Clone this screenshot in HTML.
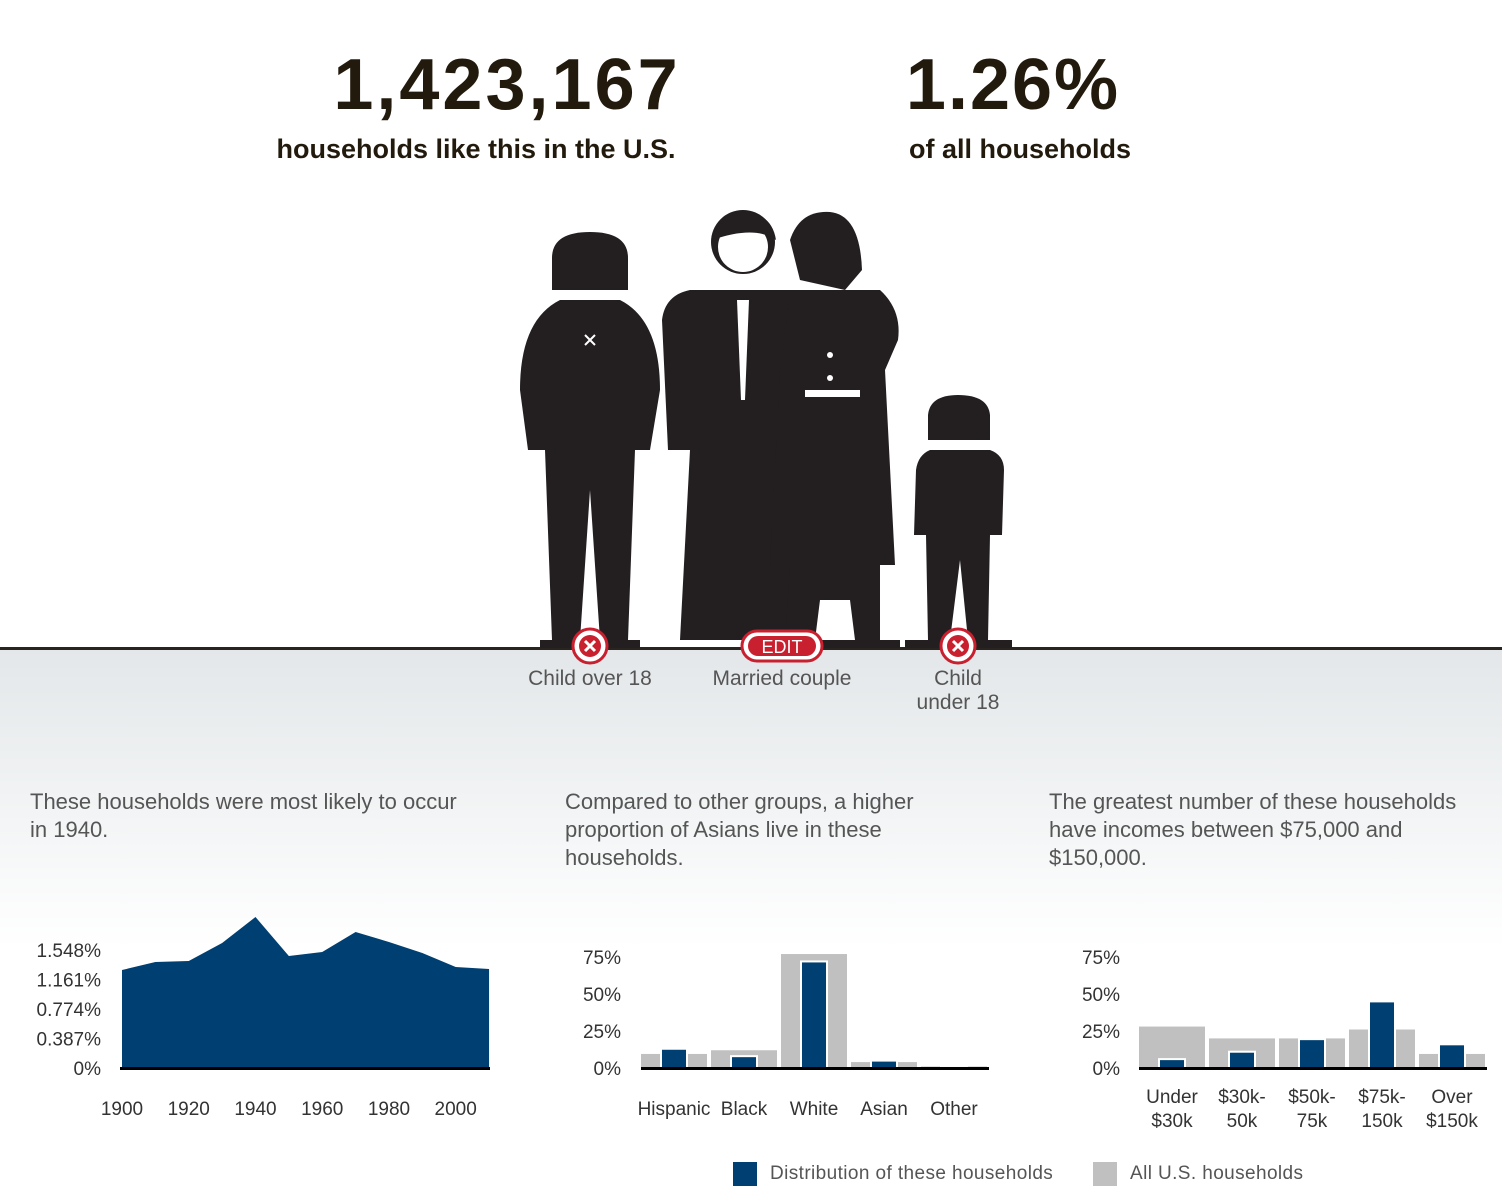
<!DOCTYPE html>
<html><head><meta charset="utf-8"><style>
body{margin:0;width:1502px;height:1182px;overflow:hidden;font-family:"Liberation Sans",sans-serif;position:relative;background:#fff}
.abs{position:absolute}
.big{font-weight:bold;color:#221a0c;text-align:center}
.desc{font-size:22px;line-height:28px;color:#555}
.lbl{font-size:21px;color:#555;text-align:center;line-height:24px}
</style></head><body>
<div class="abs" style="left:0;top:648px;width:1502px;height:534px;background:linear-gradient(#e3e7e9,#fff 300px)"></div>
<div class="abs" style="left:0;top:647px;width:1502px;height:3px;background:#2a2420"></div>
<div class="abs big" style="left:307px;top:44px;width:400px;font-size:72px;letter-spacing:3px">1,423,167</div>
<div class="abs big" style="left:226px;top:134px;width:500px;font-size:27px">households like this in the U.S.</div>
<div class="abs big" style="left:863px;top:44px;width:300px;font-size:72px;letter-spacing:2px">1.26%</div>
<div class="abs big" style="left:870px;top:134px;width:300px;font-size:27px">of all households</div>

<svg class="abs" style="left:0;top:0" width="1502" height="700">
<g fill="#231f20">
<path d="M552 290 L552 258 Q552 232 590 232 Q628 232 628 258 L628 290 Z"/>
<path d="M560 300 L620 300 Q660 320 660 390 L650 450 L635 450 L628 640 L600 640 L590 490 L580 640 L552 640 L545 450 L528 450 L520 390 Q520 320 560 300Z"/>
<path d="M540 640 L640 640 L640 648 L540 648Z"/>
<circle cx="743" cy="242" r="32"/>
<path d="M690 290 L790 290 L790 640 L680 640 L690 450 L668 450 L662 320 Q665 295 690 290Z"/>
<path d="M790 240 Q800 210 830 212 Q860 215 862 270 L845 290 L800 280 Z"/>
<path d="M790 290 L880 290 Q902 310 898 340 L885 370 L895 565 L770 565 L780 370 Z"/>
<path d="M790 565 L880 565 L880 640 L855 640 L850 600 L820 600 L815 640 L785 640 Z"/>
<path d="M770 640 L900 640 L900 648 L770 648Z"/>
<path d="M928 440 L928 415 Q930 395 958 395 Q988 395 990 415 L990 440 Z"/>
<path d="M930 450 L990 450 Q1004 455 1004 470 L1002 535 L990 535 L988 640 L968 640 L960 560 L950 640 L928 640 L926 535 L914 535 L916 470 Q918 455 930 450Z"/>
<path d="M905 640 L1012 640 L1012 648 L905 648Z"/>
</g>
<g fill="#fff">
<circle cx="743" cy="247" r="25"/><path d="M712 240 Q720 215 745 212 Q772 214 776 240 Q755 225 712 240Z" fill="#231f20"/>
<path d="M737 300 L749 300 L745 400 L741 400Z"/>
<path d="M805 390 L860 390 L860 397 L805 397Z"/>
<circle cx="830" cy="355" r="3"/><circle cx="830" cy="378" r="3"/>
<path d="M585 335 l10 10 M595 335 l-10 10" stroke="#fff" stroke-width="2"/>
</g>
<g>
<circle cx="590" cy="646" r="17" fill="#fff" stroke="#c8202f" stroke-width="3"/><circle cx="590" cy="646" r="11" fill="#c8202f"/>
<path d="M585 641 l10 10 M595 641 l-10 10" stroke="#fff" stroke-width="3"/></g>
<g>
<rect x="742" y="631" width="80" height="30" rx="15" fill="#fff" stroke="#c8202f" stroke-width="3"/><rect x="748" y="636" width="68" height="20" rx="10" fill="#c8202f"/>
<text x="782" y="653" text-anchor="middle" font-family="Liberation Sans" font-size="18" fill="#fff">EDIT</text></g>
<g>
<circle cx="958" cy="646" r="17" fill="#fff" stroke="#c8202f" stroke-width="3"/><circle cx="958" cy="646" r="11" fill="#c8202f"/>
<path d="M953 641 l10 10 M963 641 l-10 10" stroke="#fff" stroke-width="3"/></g>
</svg>
<div class="abs lbl" style="left:510px;top:667px;width:160px">Child over 18</div>
<div class="abs lbl" style="left:692px;top:667px;width:180px">Married couple</div>
<div class="abs lbl" style="left:898px;top:667px;width:120px">Child<br>under 18</div>

<div class="abs desc" style="left:30px;top:788px;width:440px">These households were most likely to occur in 1940.</div>
<div class="abs desc" style="left:565px;top:788px;width:400px">Compared to other groups, a higher proportion of Asians live in these households.</div>
<div class="abs desc" style="left:1049px;top:788px;width:453px">The greatest number of these households have incomes between $75,000 and $150,000.</div>

<svg class="abs" style="left:0;top:880px" width="1502" height="302" id="charts"></svg>

<div class="abs" style="left:733px;top:1162px;width:24px;height:24px;background:#003f72"></div>
<div class="abs" style="left:770px;top:1163px;font-size:19px;color:#555;letter-spacing:0.4px">Distribution of these households</div>
<div class="abs" style="left:1093px;top:1162px;width:24px;height:24px;background:#c0c0c0"></div>
<div class="abs" style="left:1130px;top:1163px;font-size:19px;color:#555;letter-spacing:0.4px">All U.S. households</div>

<script>
const years=[1900,1910,1920,1930,1940,1950,1960,1970,1980,1990,2000,2010];
const yearVals=[1.286,1.391,1.404,1.641,1.982,1.470,1.522,1.785,1.654,1.509,1.325,1.299];
const yearTicks=[0,0.387,0.774,1.161,1.548];
const yearTickLabels=["0%","0.387%","0.774%","1.161%","1.548%"];
const xTickYears=[1900,1920,1940,1960,1980,2000];
const raceCats=["Hispanic","Black","White","Asian","Other"];
const raceThese=[13,8,72,5,0.3];
const raceAll=[9.5,12,77,4,1];
const incCats=[["Under","$30k"],["$30k-","50k"],["$50k-","75k"],["$75k-","150k"],["Over","$150k"]];
const incThese=[6,11,19.5,45,16];
const incAll=[28,20,20,26,9.5];
const pctTicks=[0,25,50,75];
const pctTickLabels=["0%","25%","50%","75%"];

const svg=document.getElementById('charts');
const NS="http://www.w3.org/2000/svg";
function mk(t,a,p){const e=document.createElementNS(NS,t);for(const k in a)e.setAttribute(k,a[k]);(p||svg).appendChild(e);return e;}
function txt(x,y,s,anchor){const e=mk('text',{x:x,y:y,'text-anchor':anchor,'font-family':'Liberation Sans','font-size':19,fill:'#333'});e.textContent=s;return e;}
const base=188;
const ax=v=>122+(v-1900)*3.337;
const ay=v=>base-v*76.2;
let d=`M${ax(years[0])} ${base}`;
years.forEach((y,i)=>{d+=` L${ax(y)} ${ay(yearVals[i])}`;});
d+=` L${ax(years[years.length-1])} ${base} Z`;
const area=mk('path',{d:d,fill:'#003f72'});


const al=mk('rect',{x:120,y:base-1,width:370,height:3,fill:'#000'});


yearTicks.forEach((t,i)=>{const e=txt(101,ay(t)+7,yearTickLabels[i],'end');

});
xTickYears.forEach(y=>{const e=txt(ax(y),235,String(y),'middle');

});
const by=v=>base-v*1.48;
function bars(x0,these,all,prefix,tickX){
  all.forEach((v,i)=>{const gx=x0+i*70;
    const g=mk('rect',{x:gx,y:by(v),width:66,height:base-by(v),fill:'#c0c0c0'});
    
    
    const b=mk('rect',{x:gx+20,y:by(these[i]),width:26,height:base-by(these[i]),fill:'#003f72',stroke:'#fff','stroke-width':2});
    
    
  });
  const l=mk('rect',{x:x0,y:base-1,width:348,height:3,fill:'#000'});
  
  
  pctTicks.forEach((t,i)=>{const e=txt(tickX,by(t)+7,pctTickLabels[i],'end');
  
  });
}
bars(641,raceThese,raceAll,'race',621);
raceCats.forEach((c,i)=>{const e=txt(641+i*70+33,235,c,'middle');

});
bars(1139,incThese,incAll,'income',1120);
incCats.forEach((c,i)=>{c.forEach((s,j)=>{const e=txt(1139+i*70+33,223+j*24,s,'middle');

});});
</script>
</body></html>
